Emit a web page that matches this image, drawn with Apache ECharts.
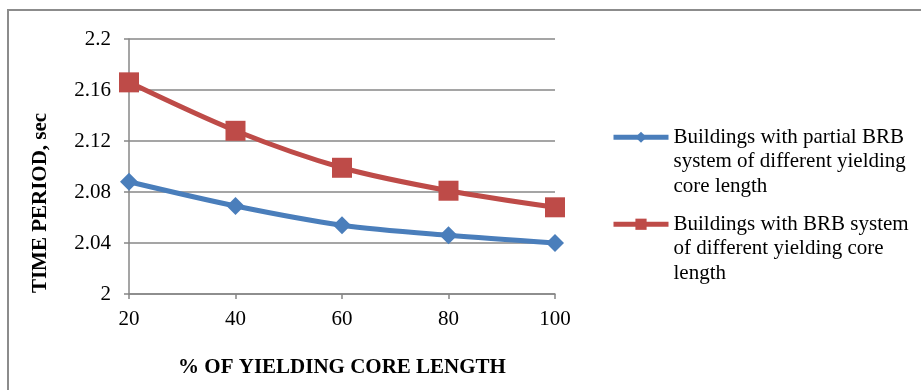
<!DOCTYPE html>
<html>
<head>
<meta charset="utf-8">
<script src="https://cdn.jsdelivr.net/npm/echarts@6/dist/echarts.min.js"></script>
<style>html,body{margin:0;padding:0;background:#fff}#c{width:921px;height:390px}</style>
</head>
<body>
<div id="c"></div>
<script>
const categories = ['20', '40', '60', '80', '100'];
const partialBRB = [2.088, 2.069, 2.054, 2.046, 2.040];
const fullBRB = [2.166, 2.128, 2.099, 2.081, 2.068];
const seriesNames = [
  'Buildings with partial BRB system of different yielding core length',
  'Buildings with BRB system of different yielding core length'
];
const legendLines = [
  'Buildings with partial BRB\nsystem of different yielding\ncore length',
  'Buildings with BRB system\nof different yielding core\nlength'
];
const xTitle = '% OF YIELDING CORE LENGTH';
const yTitle = 'TIME PERIOD, sec';

const FONT = "'Liberation Serif', 'Times New Roman', serif";
const GRAY = '#878787';
const BLUE = '#4a7ebb';
const RED = '#be4b48';

const chart = echarts.init(document.getElementById('c'), null, {renderer: 'canvas'});
const legendCommon = {
  orient: 'vertical',
  left: 611,
  padding: 0,
  itemWidth: 55,
  itemHeight: 14,
  itemGap: 0,
  lineStyle: {width: 5},
  textStyle: {fontFamily: FONT, fontSize: 21, color: '#000', lineHeight: 24.5},
  // two leading blank lines keep the first text line level with the icon
  formatter: function (name) { return '\n\n' + legendLines[seriesNames.indexOf(name)]; }
};
chart.setOption({
  animation: false,
  backgroundColor: '#fff',
  graphic: [{
    type: 'rect', silent: true,
    shape: {x: 8, y: 10, width: 2000, height: 2000},
    style: {fill: 'none', stroke: '#8c8c8c', lineWidth: 2}
  }],
  legend: [
    Object.assign({}, legendCommon, {top: 76, data: [seriesNames[0]]}),
    Object.assign({}, legendCommon, {top: 163, data: [seriesNames[1]]})
  ],
  grid: {left: 129, right: 366, top: 39, bottom: 96, containLabel: false},
  xAxis: {
    type: 'category',
    data: categories,
    boundaryGap: false,
    name: xTitle,
    nameLocation: 'middle',
    nameGap: 63,
    nameTextStyle: {fontFamily: FONT, fontSize: 21, fontWeight: 'bold', color: '#000'},
    axisLine: {lineStyle: {color: GRAY, width: 1.5}},
    axisTick: {show: true, length: 5, lineStyle: {color: GRAY, width: 1.5}},
    axisLabel: {fontFamily: FONT, fontSize: 21, color: '#000', margin: 15},
    splitLine: {show: false}
  },
  yAxis: {
    type: 'value',
    min: 2,
    max: 2.2,
    interval: 0.04,
    name: yTitle,
    nameLocation: 'middle',
    nameGap: 78,
    nameRotate: 90,
    nameTextStyle: {fontFamily: FONT, fontSize: 21, fontWeight: 'bold', color: '#000', padding: [0, 73, 0, 0]},
    axisLine: {show: true, lineStyle: {color: GRAY, width: 1.5}},
    axisTick: {show: true, length: 5, lineStyle: {color: GRAY, width: 1.5}},
    axisLabel: {fontFamily: FONT, fontSize: 21, color: '#000', margin: 18},
    splitLine: {show: true, lineStyle: {color: GRAY, width: 1.5}}
  },
  series: [
    {
      name: seriesNames[0], type: 'line', data: partialBRB, smooth: 0.3,
      symbol: 'diamond', symbolSize: 18,
      lineStyle: {color: BLUE, width: 5},
      itemStyle: {color: BLUE}
    },
    {
      name: seriesNames[1], type: 'line', data: fullBRB, smooth: 0.3,
      symbol: 'rect', symbolSize: 20,
      lineStyle: {color: RED, width: 5},
      itemStyle: {color: RED}
    }
  ]
});
</script>
</body>
</html>
